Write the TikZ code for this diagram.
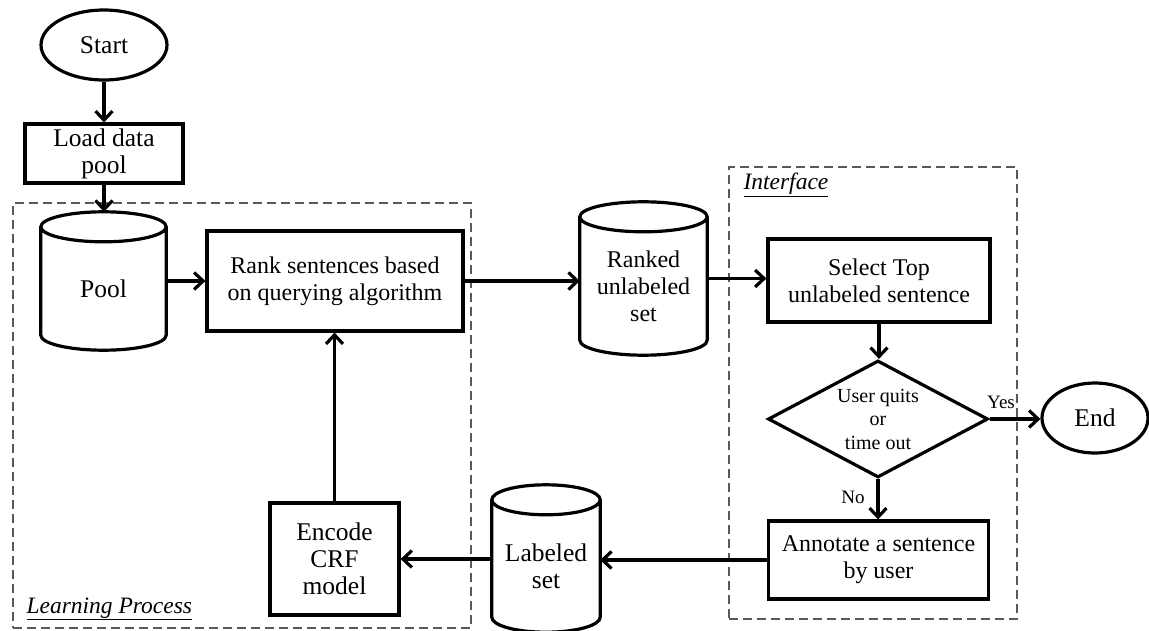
\documentclass[tikz,border=0pt]{standalone}
\usepackage{fontspec}
\setmainfont{Liberation Serif}
\usetikzlibrary{shapes.geometric,arrows.meta,calc}

% font sizes used in the chart
\newcommand{\palfont}{\fontsize{25.5}{27}\selectfont}
\newcommand{\tmsfont}{\fontsize{24}{27}\selectfont}
\newcommand{\dfont}{\fontsize{20}{23.5}\selectfont}
\newcommand{\lblfont}{\fontsize{19}{22}\selectfont}
\newcommand{\grpfont}{\fontsize{23.5}{27}\selectfont\itshape}

% outline of a cylinder (data store) around an empty node
\newcommand{\cylout}[1]{%
  \draw[flow] let \p1=(#1.north west), \p2=(#1.south east), \n1={(\x2-\x1)/2} in
    (\x1,\y1-15pt) -- (\x1,\y2+15pt)
    arc[start angle=180,end angle=360,x radius=\n1,y radius=15pt]
    -- (\x2,\y1-15pt)
    (\x1+\n1,\y1-15pt) ellipse[x radius=\n1,y radius=15pt];}

\tikzset{
  flow/.style={line width=3.2pt, draw=black},
  arr/.style={flow, -{Straight Barb[length=9pt,width=17pt]}},
  procbox/.style={rectangle, flow, inner sep=0pt, align=center},
  terminal/.style={ellipse, flow, inner sep=0pt, font=\palfont},
  cylnode/.style={rectangle, inner sep=0pt},
  decision/.style={diamond, flow, aspect=1.9, inner sep=0pt, align=center, font=\dfont},
  groupbox/.style={rectangle, draw=black!65, line width=1.6pt, dash pattern=on 9pt off 5pt, inner sep=0pt},
}

\begin{document}
\begin{tikzpicture}[x=1pt,y=-1pt]
\useasboundingbox (0,0) rectangle (1149,631);

% dashed group frames
\node[groupbox, minimum width=458pt, minimum height=425pt] (learn) at (242,415.5) {};
\node[groupbox, minimum width=288pt, minimum height=452pt] (iface) at (873,393) {};
\node[font=\grpfont, anchor=base west] (learnlbl) at (23,613) {\underline{Learning Process}};
\node[font=\grpfont, anchor=base west] (ifacelbl) at (740,190) {\underline{Interface}};

% terminals
\node[terminal, minimum width=126pt, minimum height=70pt] (start) at (104,45) {Start};
\node[terminal, minimum width=106pt, minimum height=70pt] (end) at (1095,418) {End};

% process boxes
\node[procbox, font=\palfont, minimum width=158pt, minimum height=59pt] (load) at (104,153.5) {Load data\\pool};
\node[procbox, font=\tmsfont, minimum width=256pt, minimum height=100pt] (rank) at (335,281) {Rank sentences based\\on querying algorithm};
\node[procbox, font=\tmsfont, minimum width=222pt, minimum height=83pt] (select) at (879,280.5) {Select Top\\unlabeled sentence};
\node[procbox, font=\tmsfont, minimum width=220pt, minimum height=78pt] (annot) at (878.5,560) {Annotate a sentence\\by user};
\node[procbox, font=\palfont, minimum width=129pt, minimum height=112pt] (encode) at (334.5,559) {Encode\\CRF\\model};

% decision
\node[decision, minimum width=220pt, minimum height=117pt] (dec) at (878,419) {User quits\\or\\time out};

% data stores
\node[cylnode, minimum width=125pt, minimum height=138pt] (pool) at (103.5,281) {};
\cylout{pool}
\node[font=\palfont] (pooltxt) at ($(pool.center)+(0,8)$) {Pool};

\node[cylnode, minimum width=127pt, minimum height=153pt] (ranked) at (643.5,278.5) {};
\cylout{ranked}
\node[font=\tmsfont, align=center] (rankedtxt) at ($(ranked.center)+(0,8)$) {Ranked\\unlabeled\\set};

\node[cylnode, minimum width=108pt, minimum height=147pt] (labeled) at (546,558.5) {};
\cylout{labeled}
\node[font=\palfont, align=center] (labeledtxt) at ($(labeled.center)+(0,8)$) {Labeled\\set};

% connectors
\draw[arr] (start.south) -- (load.north);
\draw[arr] (load.south) -- (load.south |- pool.north);
\draw[arr] (pool.east) -- (pool.east -| rank.west);
\draw[arr] (rank.east) -- (rank.east -| ranked.west);
\draw[arr] (ranked.east) -- (ranked.east -| select.west);
\draw[arr] (select.south) -- (select.south |- dec.north);
\draw[arr] (dec.east) -- (dec.east -| end.west);
\draw[arr] (dec.south) -- (dec.south |- annot.north);
\draw[arr] (annot.west) -- (annot.west -| labeled.east);
\draw[arr] (labeled.west |- encode.east) -- (encode.east);
\draw[arr] (encode.north) -- (encode.north |- rank.south);

% branch labels
\node[font=\lblfont] (yes) at (1001,402) {Yes};
\node[font=\lblfont] (no) at (853,497) {No};
\end{tikzpicture}
\end{document}
